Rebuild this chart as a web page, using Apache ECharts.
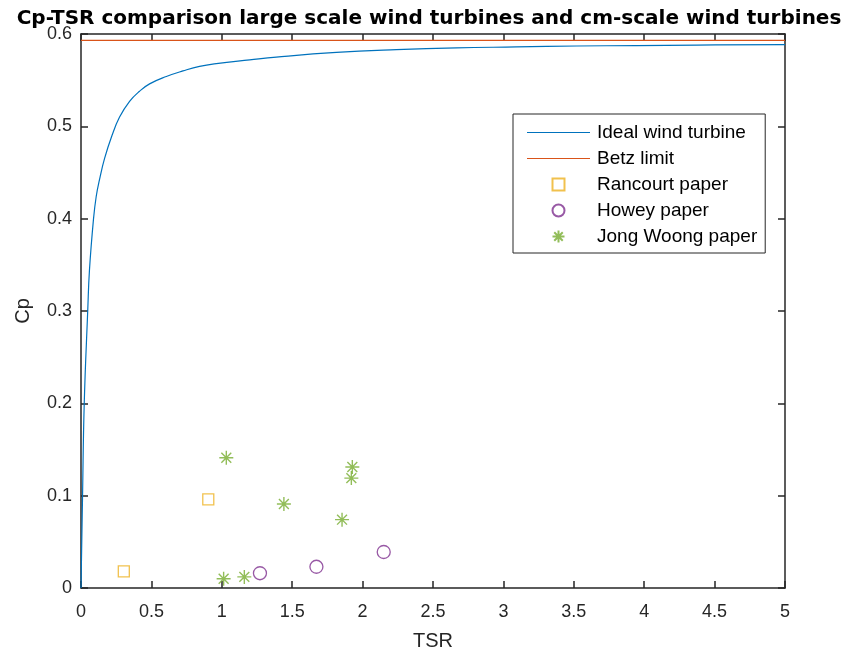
<!DOCTYPE html>
<html>
<head>
<meta charset="utf-8">
<script src="https://cdn.jsdelivr.net/npm/echarts@6/dist/echarts.min.js"></script>
<style>
  html, body { margin: 0; padding: 0; background: #fff; }
  #main { width: 858px; height: 653px; }
</style>
</head>
<body>
<div id="main"></div>
<script>
// tick labels
var xTicks = [0, 0.5, 1, 1.5, 2, 2.5, 3, 3.5, 4, 4.5, 5];
var yTicks = [0, 0.1, 0.2, 0.3, 0.4, 0.5, 0.6];

// ideal wind turbine curve
var idealTsr = [0, 0.011, 0.023, 0.048, 0.060, 0.089, 0.108, 0.131, 0.167, 0.220, 0.274, 0.345, 0.416, 0.487, 0.606, 0.724, 0.842, 0.961, 1.198, 1.387, 1.814, 2.240, 2.667, 3.093, 3.520, 3.946, 4.373, 5];
var idealCp  = [0, 0.100, 0.200, 0.301, 0.344, 0.400, 0.424, 0.442, 0.465, 0.490, 0.510, 0.527, 0.538, 0.546, 0.554, 0.560, 0.565, 0.568, 0.572, 0.575, 0.580, 0.583, 0.585, 0.586, 0.587, 0.5875, 0.588, 0.5885];

// Betz limit
var betzTsr = [0, 5];
var betzCp  = [0.593, 0.593];

// measured points
var rancourtTsr = [0.304, 0.904];
var rancourtCp  = [0.018, 0.096];
var howeyTsr = [1.271, 1.672, 2.150];
var howeyCp  = [0.016, 0.023, 0.039];
var jongTsr = [1.032, 1.013, 1.160, 1.441, 1.854, 1.920, 1.927];
var jongCp  = [0.141, 0.010, 0.012, 0.091, 0.074, 0.119, 0.131];

function pairs(xs, ys) {
  var out = [];
  for (var i = 0; i < xs.length; i++) out.push([xs[i], ys[i]]);
  return out;
}

var axisColor = '#262626';
var font = 'Liberation Sans, Arial, Helvetica, sans-serif';
var asterisk = 'path://M0,-10L0,10M-10,0L10,0M-7.07,-7.07L7.07,7.07M-7.07,7.07L7.07,-7.07';
var square = 'path://M0,0L10,0L10,10L0,10Z';
var lineIcon = 'path://M0,0L63,0L63,1.2L0,1.2Z';

var myChart = echarts.init(document.getElementById('main'));

function xAxisOf(pos, showLabel) {
  return {
    type: 'value',
    position: pos,
    min: xTicks[0],
    max: xTicks[xTicks.length - 1],
    interval: xTicks[1] - xTicks[0],
    name: showLabel ? 'TSR' : '',
    nameLocation: 'middle',
    nameGap: 43,
    nameMoveOverlap: false,
    nameTextStyle: { fontFamily: font, fontSize: 20, color: axisColor },
    axisLine: { show: true, onZero: false, lineStyle: { color: axisColor, width: 1.5 } },
    axisTick: { show: true, inside: true, length: 7, lineStyle: { color: axisColor, width: 1.5 } },
    axisLabel: { show: showLabel, fontFamily: font, fontSize: 18, color: axisColor, margin: 15 },
    splitLine: { show: false }
  };
}

function yAxisOf(pos, showLabel) {
  return {
    type: 'value',
    position: pos,
    min: yTicks[0],
    max: yTicks[yTicks.length - 1],
    interval: 0.1,
    name: showLabel ? 'Cp' : '',
    nameLocation: 'middle',
    nameGap: 48,
    nameMoveOverlap: false,
    nameRotate: 90,
    nameTextStyle: { fontFamily: font, fontSize: 20, color: axisColor },
    axisLine: { show: true, onZero: false, lineStyle: { color: axisColor, width: 1.5 } },
    axisTick: { show: true, inside: true, length: 7, lineStyle: { color: axisColor, width: 1.5 } },
    axisLabel: {
      show: showLabel, fontFamily: font, fontSize: 18, color: axisColor, margin: 9,
      formatter: function (v) { return String(Math.round(v * 10) / 10); }
    },
    splitLine: { show: false }
  };
}

var option = {
  animation: false,
  backgroundColor: '#fff',
  title: {
    text: 'Cp-TSR comparison large scale wind turbines and cm-scale wind turbines',
    left: 'center',
    top: 4,
    textStyle: { fontFamily: 'DejaVu Sans, sans-serif', fontSize: 20, fontWeight: 'bold', color: '#000' }
  },
  grid: {
    left: 81, right: 73, top: 34, bottom: 65,
    outerBoundsMode: 'none'
  },
  legend: {
    orient: 'vertical',
    left: 513,
    top: 114,
    padding: [9, 8, 7, 14],
    backgroundColor: '#fff',
    borderColor: axisColor,
    borderWidth: 1,
    itemWidth: 63,
    itemHeight: 12,
    itemGap: 7,
    symbolKeepAspect: true,
    textStyle: { fontFamily: font, fontSize: 19, color: '#000', padding: [0, 0, 0, 2] },
    data: [
      { name: 'Ideal wind turbine', icon: lineIcon, itemStyle: { color: '#0072BD' } },
      { name: 'Betz limit', icon: lineIcon, itemStyle: { color: '#D95319' } },
      'Rancourt paper', 'Howey paper', 'Jong Woong paper'
    ]
  },
  xAxis: [xAxisOf('bottom', true), xAxisOf('top', false)],
  yAxis: [yAxisOf('left', true), yAxisOf('right', false)],
  series: [
    {
      name: 'Ideal wind turbine',
      type: 'line',
      xAxisIndex: 0, yAxisIndex: 0,
      data: pairs(idealTsr, idealCp),
      symbol: 'none',
      smooth: 0.45,
      lineStyle: { color: '#0072BD', width: 1.2 },
      itemStyle: { color: '#0072BD' }
    },
    {
      name: 'Betz limit',
      type: 'line',
      xAxisIndex: 0, yAxisIndex: 0,
      data: pairs(betzTsr, betzCp),
      symbol: 'none',
      lineStyle: { color: '#D95319', width: 1.2 },
      itemStyle: { color: '#D95319' }
    },
    {
      name: 'Rancourt paper',
      type: 'scatter',
      xAxisIndex: 0, yAxisIndex: 0,
      data: pairs(rancourtTsr, rancourtCp),
      symbol: square,
      symbolSize: 11,
      symbolKeepAspect: true,
      itemStyle: { color: 'rgba(0,0,0,0)', borderColor: '#EDB120', borderWidth: 1.3 }
    },
    {
      name: 'Howey paper',
      type: 'scatter',
      xAxisIndex: 0, yAxisIndex: 0,
      data: pairs(howeyTsr, howeyCp),
      symbol: 'circle',
      symbolSize: 13,
      symbolKeepAspect: true,
      itemStyle: { color: 'rgba(0,0,0,0)', borderColor: '#7E2F8E', borderWidth: 1.3 }
    },
    {
      name: 'Jong Woong paper',
      type: 'scatter',
      xAxisIndex: 0, yAxisIndex: 0,
      data: pairs(jongTsr, jongCp),
      symbol: asterisk,
      symbolSize: 14,
      symbolKeepAspect: true,
      itemStyle: { color: 'rgba(0,0,0,0)', borderColor: '#77AC30', borderWidth: 1.4 }
    }
  ]
};

myChart.setOption(option);
</script>
</body>
</html>
